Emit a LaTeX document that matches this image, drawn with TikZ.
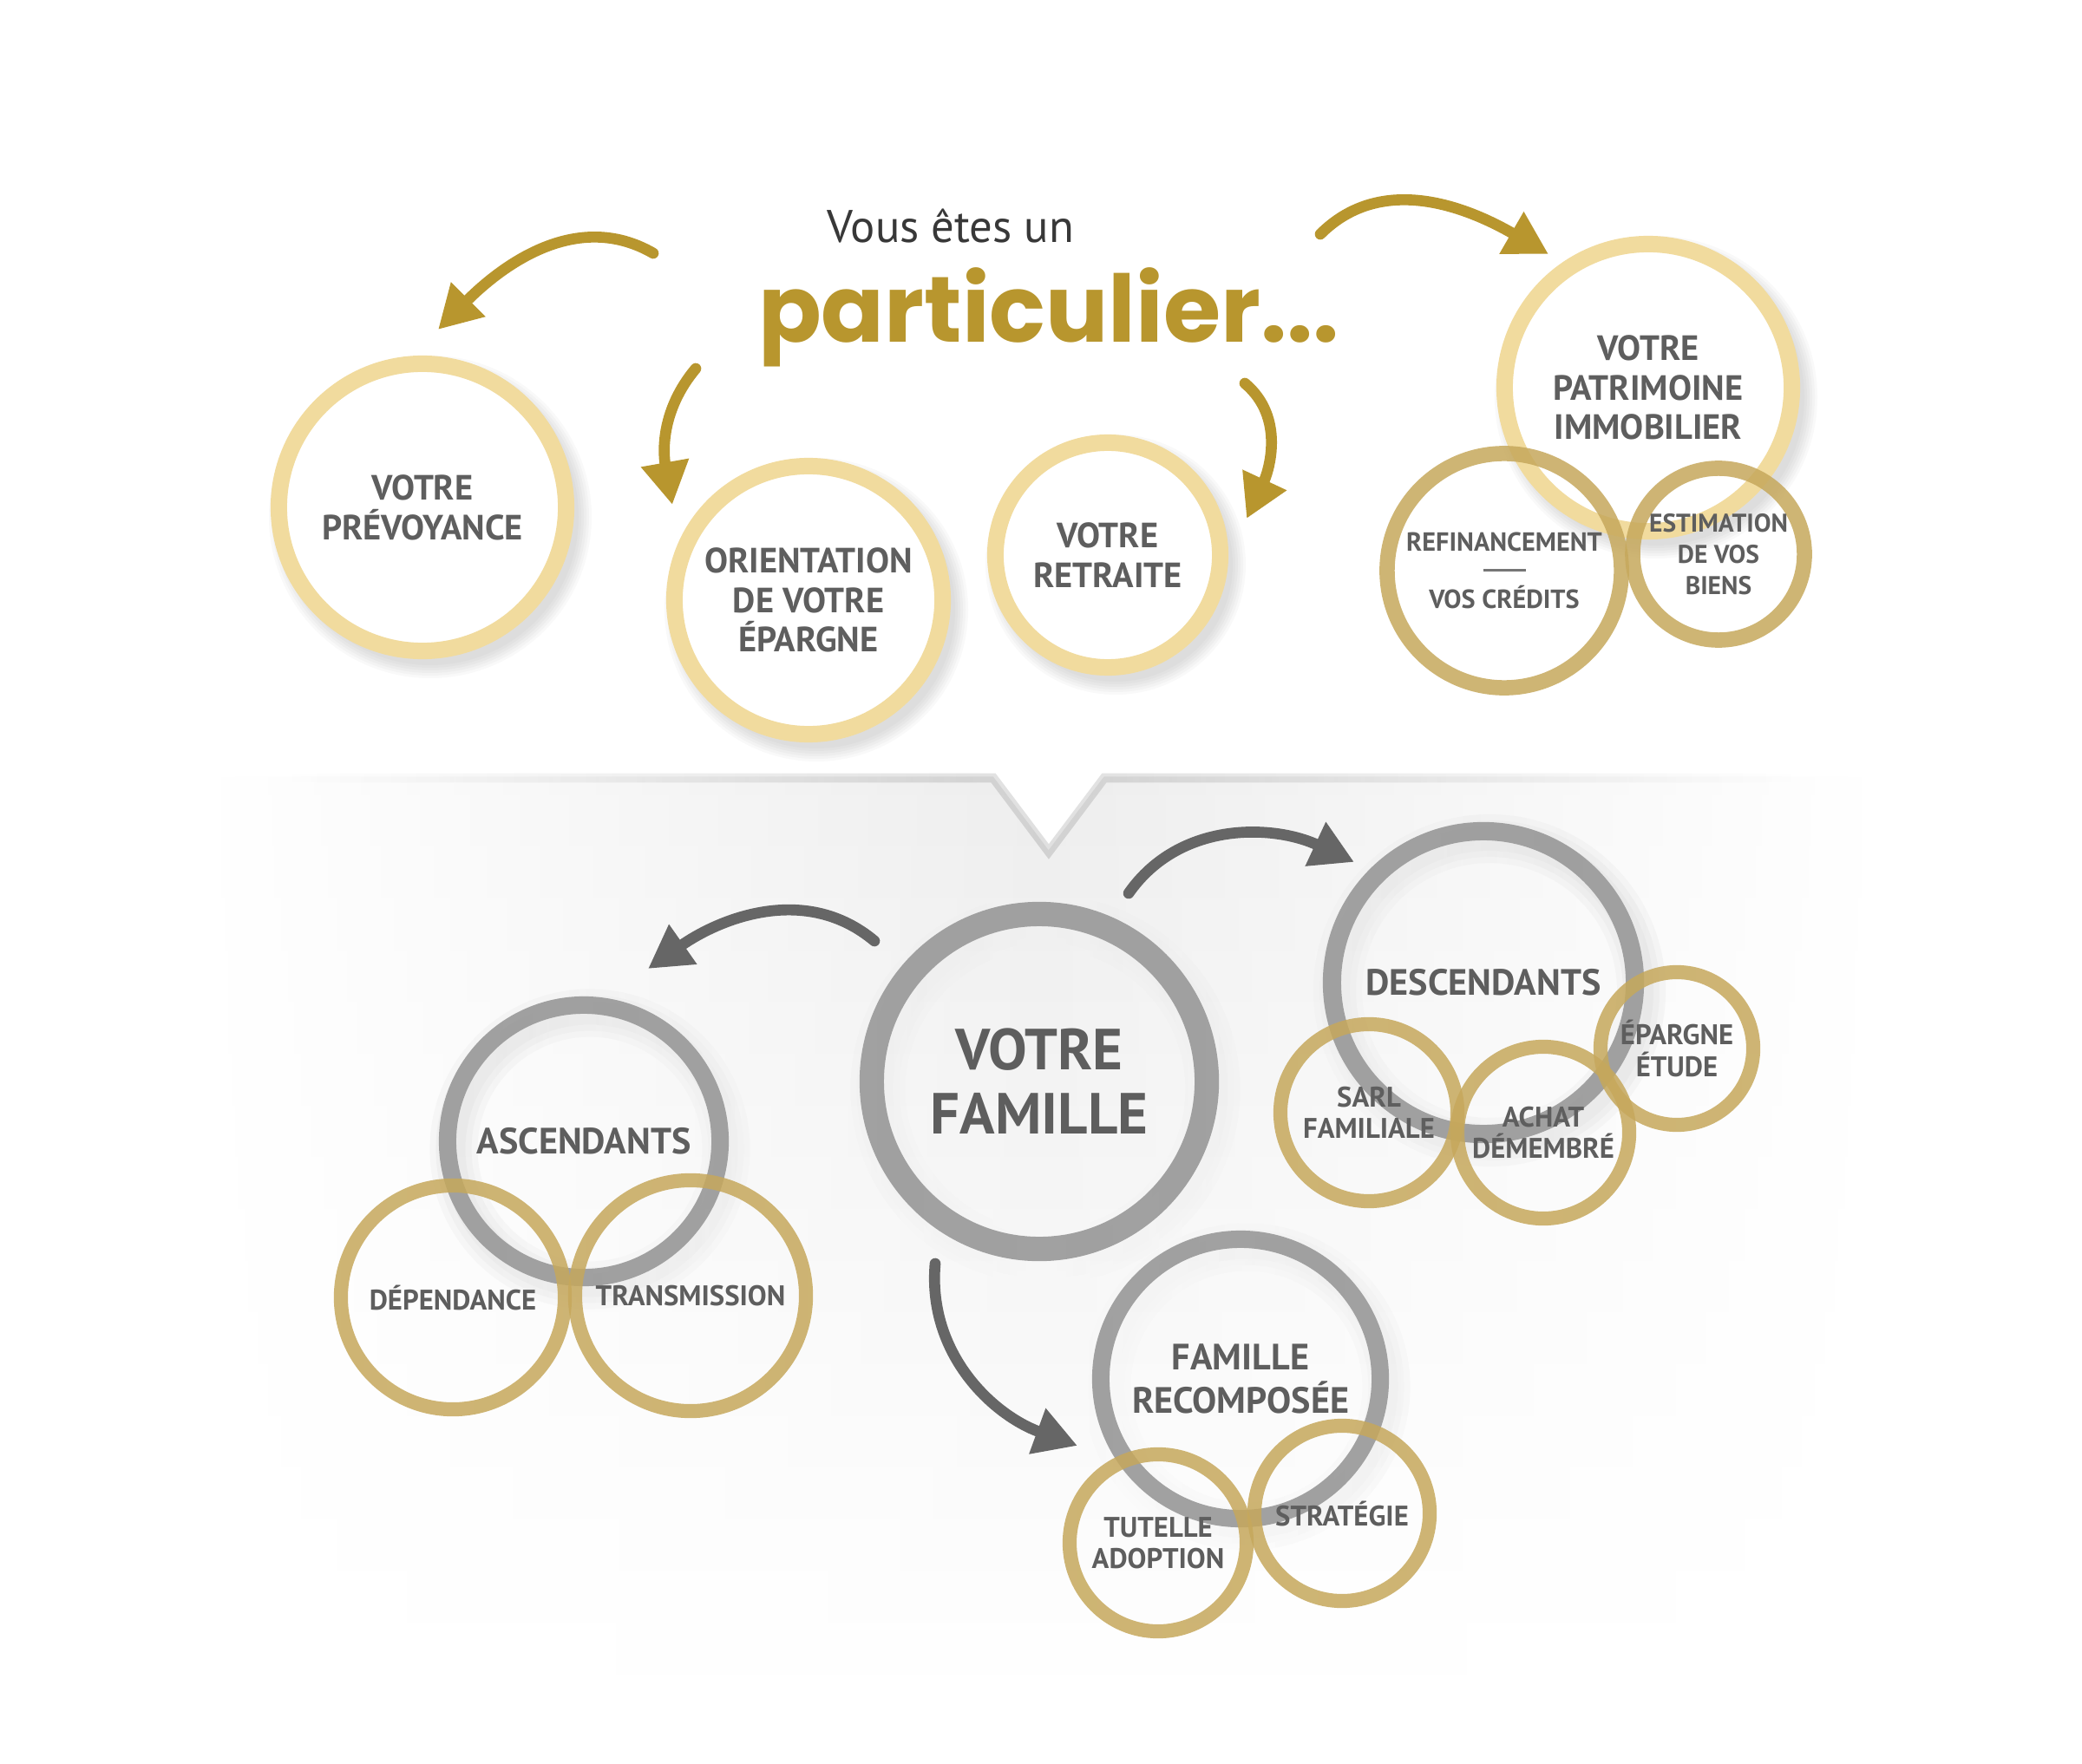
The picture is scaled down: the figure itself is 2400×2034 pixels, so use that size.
\documentclass[tikz,border=0pt]{standalone}
\usepackage{fontspec}
\setmainfont{PT Sans}
\newfontfamily\titlefont{Poppins}
\usetikzlibrary{arrows.meta}
\usetikzlibrary{fadings}
\definecolor{ringlight}{HTML}{F1DB9E}
\definecolor{ringgold}{HTML}{C6A85C}
\definecolor{ringgray}{HTML}{9A9A9A}
\definecolor{arrowgold}{HTML}{B8962E}
\definecolor{arrowgray}{HTML}{666666}
\definecolor{txtgray}{HTML}{5E5E5E}
\tikzfading[name=sidefade, left color=transparent!100, right color=transparent!100, middle color=transparent!0]
\pgfdeclarelayer{bg}
\pgfsetlayers{bg,main}

\begin{document}
\begin{tikzpicture}[x=0.01cm, y=-0.01cm,
  lbl/.style={text=txtgray, align=center, inner sep=0pt},
  topring/.style={lbl, circle, draw=ringlight, line width=5.4pt, fill=white, font=\bfseries\fontsize{11.5}{13}\selectfont},
  grayring/.style={lbl, circle, draw=ringgray, draw opacity=0.92, font=\bfseries\fontsize{12}{14}\selectfont},
  goldring/.style={lbl, circle, draw=ringgold, draw opacity=0.85, line width=4.6pt, font=\bfseries\fontsize{9.3}{10.3}\selectfont},
  goldarrow/.style={color=arrowgold, line width=3.6pt, line cap=round, -{Triangle[length=14pt,width=15pt]}},
  grayarrow/.style={goldarrow, color=arrowgray}
]
\useasboundingbox (0,0) rectangle (2400,2034);

\shade[top color=black!7, bottom color=white, path fading=sidefade]
  (230,895) -- (1145,895) -- (1209,980) -- (1273,895) -- (2170,895) -- (2170,1960) -- (230,1960) -- cycle;
\draw[black, opacity=0.12, line width=3pt, path fading=sidefade]
  (330,897) -- (1145,897) -- (1209,982) -- (1273,897) -- (2070,897);

\node[text=black!78, font=\fontsize{15}{17}\selectfont, anchor=base] (vous) at (1096,280) {Vous êtes un};
\node[text=arrowgold, font=\titlefont\bfseries\fontsize{30.5}{34}\selectfont, anchor=base] (part) at (1209,395) {particulier...};

\node[topring, minimum size=3.31cm] (prev) at (487,585) {VOTRE\\PRÉVOYANCE};
\node[topring, minimum size=3.09cm] (orient) at (932,692) {ORIENTATION\\DE VOTRE\\ÉPARGNE};
\node[topring, minimum size=2.59cm] (retr) at (1277,640) {VOTRE\\RETRAITE};
\node[topring, minimum size=3.31cm] (patr) at (1900,447) {VOTRE\\PATRIMOINE\\IMMOBILIER};
\node[goldring, line width=5pt, minimum size=2.70cm, font=\bfseries\fontsize{8.6}{9.4}\selectfont] (refin) at (1734,658)
  {REFINANCEMENT\\\rule[2.6pt]{0.49cm}{0.85pt}\\VOS CRÉDITS};
\node[goldring, line width=5pt, minimum size=1.98cm, font=\bfseries\fontsize{8.4}{10.2}\selectfont] (estim) at (1981,639)
  {ESTIMATION\\DE VOS\\BIENS};

\node[grayring, line width=8pt, minimum size=3.86cm, font=\bfseries\fontsize{19}{21}\selectfont] (fam) at (1198,1247) {VOTRE\\FAMILLE};
\node[grayring, line width=6pt, minimum size=3.49cm] (desc) at (1710,1133) {DESCENDANTS};
\node[grayring, line width=5.7pt, minimum size=3.14cm] (asc) at (673,1316) {ASCENDANTS};
\node[grayring, line width=5.7pt, minimum size=3.22cm] (recomp) at (1430,1590) {FAMILLE\\RECOMPOSÉE};

\node[goldring, minimum size=2.58cm] (dep) at (522,1496) {DÉPENDANCE};
\node[goldring, minimum size=2.66cm] (trans) at (796,1494) {TRANSMISSION};
\node[goldring, minimum size=2.04cm] (sarl) at (1578,1283) {SARL\\FAMILIALE};
\node[goldring, minimum size=1.98cm] (achat) at (1779,1306) {ACHAT\\DÉMEMBRÉ};
\node[goldring, minimum size=1.76cm] (etude) at (1933,1209) {ÉPARGNE\\ÉTUDE};
\node[goldring, minimum size=2.04cm] (tutelle) at (1335,1779) {TUTELLE\\ADOPTION};
\node[goldring, minimum size=2.02cm] (strat) at (1547,1745) {STRATÉGIE};

\begin{pgfonlayer}{bg}
\foreach \n/\r in {prev/175, orient/164, retr/139, patr/175}
  \foreach \k in {0,...,5}
    \fill[black, opacity=0.022] (\n.center) ++(9,11) circle ({\r+3*\k-4});
\foreach \n/\r/\w in {fam/193/8, desc/175/6, asc/157/5.7, recomp/161/5.7}
  \foreach \k in {2,6,10}
    \draw[black, opacity=0.035, line width={\w pt+\k pt}] (\n.center) ++(7,9) circle (\r);
\end{pgfonlayer}

\coordinate (g1s) at (753,292);  \coordinate (g1e) at (505,380);
\coordinate (g2s) at (802,425);  \coordinate (g2e) at (775,582);
\coordinate (g3s) at (1435,442); \coordinate (g3e) at (1437,598);
\coordinate (g4s) at (1522,270); \coordinate (g4e) at (1785,293);
\coordinate (k1s) at (1008,1085); \coordinate (k1e) at (747,1117);
\coordinate (k2s) at (1301,1030); \coordinate (k2e) at (1561,994);
\coordinate (k3s) at (1078,1457); \coordinate (k3e) at (1242,1667);

\path[goldarrow]
(g1s) edge[out=150, in=45] (g1e)
(g2s) edge[out=230, in=100] (g2e)
(g3s) edge[out=-40, in=65] (g3e)
(g4s) edge[out=45, in=150] (g4e);
\path[grayarrow]
(k1s) edge[out=140, in=35] (k1e)
(k2s) edge[out=55, in=155] (k2e)
(k3s) edge[out=-95, in=160] (k3e);
\end{tikzpicture}
\end{document}
